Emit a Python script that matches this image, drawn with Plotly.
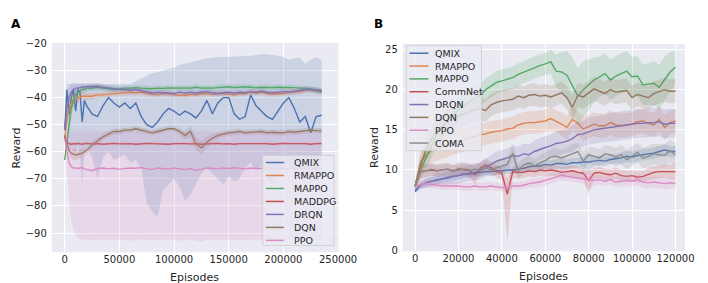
import plotly.graph_objects as go

# ---------------- Panel A data ----------------
xa = [0, 2000, 4000, 6000, 8000, 10000, 12000, 14000, 16000, 18000, 20000,
      25000, 30000, 35000, 40000, 45000, 50000, 55000, 60000, 65000, 70000,
      75000, 80000, 85000, 90000, 95000, 100000, 105000, 110000, 115000, 120000,
      125000, 130000, 135000, 140000, 145000, 150000, 155000, 160000, 165000, 170000,
      175000, 180000, 185000, 190000, 195000, 200000, 205000, 210000, 215000, 220000,
      225000, 230000, 235000]

qmix_a = [-52, -37, -46, -40, -37, -45, -37, -38, -49, -41, -43,
          -46, -47, -43, -40, -42, -43.5, -42, -44, -42, -47,
          -50, -51, -49, -46, -44, -45, -46.5, -45, -46, -47.5,
          -45, -41, -46, -42, -40, -40, -46, -48, -47, -39,
          -43, -45, -47, -48, -45, -42, -40, -44, -49, -47,
          -53, -47, -46.5]
qmix_a_hi = [-50, -35, -35, -35, -35, -35, -35, -35, -35, -35, -35,
             -35, -35, -35, -35, -35, -35, -35, -35, -34, -33,
             -32, -31, -30.5, -30, -29.5, -29, -28, -27.5, -27, -26.5,
             -26, -25.5, -25.3, -25, -25, -25, -24.8, -24.7, -24.7, -24.5,
             -24.3, -24, -24, -24.2, -24.5, -25, -26, -25.5, -25.3, -27.5,
             -26, -25, -26]
qmix_a_lo = [-54, -58, -60, -58, -60, -60, -58, -62, -72, -60, -58,
             -62, -70, -62, -60, -63, -62, -61, -64, -63, -66,
             -79, -82, -84, -74, -72, -70, -73, -78, -76, -72,
             -68, -66, -68, -70, -72, -69, -71, -70, -66, -64,
             -67, -65, -70, -72, -68, -66, -64, -68, -70, -67,
             -72, -68, -66]
rmappo_a = [-55, -48, -44, -42, -41, -40.5, -40, -40, -39.5, -39.5, -39.5,
            -39.5, -39, -39, -38.7, -38.5, -38.5, -38.3, -38, -38.2, -38,
            -38.5, -38.8, -39, -38.5, -38.5, -39, -39, -39.2, -38.8, -39,
            -38.6, -38.5, -38.8, -38.5, -38.5, -38.8, -39, -38.5, -38.5, -38,
            -38.3, -38, -38.5, -38.7, -38.5, -38.5, -38, -38, -37.8, -37.3,
            -37, -37.5, -38]
mappo_a = [-63, -56, -50, -44, -41, -39, -38, -37.5, -37, -37, -36.5,
           -36.5, -36.2, -36.5, -36.8, -37, -36.8, -36.5, -36.5, -36.3, -36.5,
           -36.6, -36.7, -36.5, -36.6, -36.4, -36.5, -36.5, -36.4, -36.5, -36.2,
           -36.5, -36.4, -36.5, -36.3, -36.2, -36, -36.3, -36.2, -36, -36.2,
           -36.4, -36.2, -36.3, -36.3, -36.2, -36.2, -36.4, -36.3, -36.5, -36.5,
           -36.8, -37.3, -37.8]
maddpg_a = [-54, -56.5, -57, -57.2, -57, -57.1, -56.9, -57, -57.2, -57,
            -56.9, -57.1, -57, -57.2, -57, -56.9, -57.1, -57, -57, -57.2,
            -57, -56.9, -57, -57.1, -57, -57.2, -57, -56.9, -57, -57.1,
            -57, -57.2, -57, -57, -56.9, -57.1, -57, -57.2, -57, -57,
            -56.9, -57.1, -57, -57, -57.2, -57, -56.9, -57, -57.1, -57,
            -57, -57.2, -57, -57]
drqn_a = [-52, -44, -40, -38, -37, -36.5, -36.5, -36.3, -36, -36, -36,
          -35.8, -35.8, -36.2, -36.5, -36.8, -37, -37, -37.3, -37, -37.5,
          -38, -38.3, -38, -38.2, -38.5, -38.5, -38, -38.3, -38, -38.3,
          -38, -37.8, -38.2, -38.5, -38.2, -38, -38.3, -38, -38.2, -37.8,
          -38, -37.6, -38, -38.2, -38, -37.8, -38, -37.6, -37.3, -37,
          -37, -37.2, -37.3]
dqn_a = [-55, -57.5, -59.5, -60.5, -61, -61.2, -61, -60.8, -60.5, -60, -59.5,
         -57.5, -56, -54.5, -53.5, -52.5, -52.5, -52, -52, -51.5, -52,
         -52.5, -53, -52.5, -52, -51.5, -51.5, -52.5, -54, -52.5, -57,
         -58.5, -56.5, -55, -54, -53.5, -53, -52.8, -52.5, -53, -52.8,
         -52.5, -52.5, -53, -52.8, -53, -53, -52.5, -52.8, -52.5, -52.3,
         -52, -52.2, -52.3]
ppo_a = [-55, -60, -64, -65.5, -66, -66, -66.2, -66, -65.8, -66.3, -66.5,
         -67, -66.2, -66, -66.3, -66.1, -66.4, -66.2, -66, -66.1, -65.8,
         -66.3, -66.5, -66, -66.2, -66.4, -66, -66.3, -66.6, -66.2, -66.8,
         -66.4, -66, -66.1, -66.3, -66, -66.2, -65.9, -66.1, -66.3, -66,
         -66.2, -66.1, -65.9, -66, -66.2, -66.1, -66.3, -66, -66.2, -66.1,
         -66, -66.2, -66.1]
ppo_a_hi = [-54, -53, -52.5, -52.5, -52.5, -52.5, -52.5, -52.5, -52.5, -52.5, -52.5,
            -52.4, -52.6, -52.5, -52.3, -52.5, -52.6, -52.4, -52.5, -52.5, -52.3,
            -52.5, -52.6, -52.4, -52.5, -52.5, -52.3, -52.5, -52.6, -52.4, -52.5,
            -52.5, -52.3, -52.5, -52.6, -52.4, -52.5, -52.5, -52.3, -52.5, -52.6,
            -52.4, -52.5, -52.5, -52.3, -52.5, -52.6, -52.4, -52.5, -52.5, -52.3,
            -52.5, -52.6, -52.4]
ppo_a_lo = [-56, -68, -78, -85, -89, -91, -92, -92.3, -92.5, -92.5, -92.6,
            -92.8, -92.5, -92.7, -92.4, -92.8, -92.6, -92.5, -92.9, -92.6, -92.4,
            -92.7, -92.5, -92.8, -92.6, -92.4, -92.7, -92.9, -92.5, -92.6, -92.8,
            -93.2, -92.6, -92.5, -92.7, -92.4, -92.6, -92.8, -92.5, -92.7, -92.6,
            -92.4, -92.6, -92.8, -92.5, -92.6, -92.7, -92.5, -92.4, -92.6, -92.8,
            -92.5, -92.6, -92.7]
hw_a_std = [0.5, 3, 3.5, 3, 2.5, 2, 1.8, 1.5, 1.5, 1.3, 1.3,
            1.2, 1.2, 1.1, 1.1, 1.1, 1.0, 1.0, 1.0, 1.0, 1.0,
            1.0, 1.0, 1.0, 1.0, 1.0, 1.0, 1.0, 1.0, 1.0, 1.0,
            1.0, 1.0, 1.0, 1.0, 1.0, 1.0, 1.0, 1.0, 1.0, 1.0,
            1.0, 1.0, 1.0, 1.0, 1.0, 1.0, 1.0, 1.0, 1.0, 1.0,
            1.0, 1.0, 1.0]
hw_a_dqn = [0.5, 1.5, 2, 2, 2, 2, 1.8, 1.5, 1.5, 1.3, 1.3,
            1.2, 1.2, 1.1, 1.1, 1.1, 1.0, 1.0, 1.0, 1.0, 1.0,
            1.0, 1.0, 1.0, 1.0, 1.0, 1.0, 1.2, 1.5, 2.0, 2.5,
            2.5, 2.0, 1.5, 1.2, 1.0, 1.0, 1.0, 1.0, 1.0, 1.0,
            1.0, 1.0, 1.0, 1.0, 1.0, 1.0, 1.0, 1.0, 1.0, 1.0,
            1.0, 1.0, 1.0]
hw_a_thin = [0.3, 0.4, 0.4, 0.4, 0.4, 0.4, 0.4, 0.4, 0.4, 0.4, 0.4,
             0.4, 0.4, 0.4, 0.4, 0.4, 0.4, 0.4, 0.4, 0.4, 0.4,
             0.4, 0.4, 0.4, 0.4, 0.4, 0.4, 0.4, 0.4, 0.4, 0.4,
             0.4, 0.4, 0.4, 0.4, 0.4, 0.4, 0.4, 0.4, 0.4, 0.4,
             0.4, 0.4, 0.4, 0.4, 0.4, 0.4, 0.4, 0.4, 0.4, 0.4,
             0.4, 0.4, 0.4]

names_a = ["QMIX", "RMAPPO", "MAPPO", "MADDPG", "DRQN", "DQN", "PPO"]
xtick_a = [0, 50000, 100000, 150000, 200000, 250000]
xtick_a_text = ["0", "50000", "100000", "150000", "200000", "250000"]
ytick_a = [-90, -80, -70, -60, -50, -40, -30, -20]
ytick_a_text = ["\u221290", "\u221280", "\u221270", "\u221260", "\u221250", "\u221240", "\u221230", "\u221220"]

# ---------------- Panel B data ----------------
xb = [0, 2500, 5000, 7500, 10000, 12500, 15000, 17500, 20000, 22500,
      25000, 27500, 30000, 32500, 35000, 37500, 40000, 42500, 45000, 47500,
      50000, 52500, 55000, 57500, 60000, 62500, 65000, 67500, 70000, 72500,
      75000, 77500, 80000, 82500, 85000, 87500, 90000, 92500, 95000, 97500,
      100000, 102500, 105000, 107500, 110000, 112500, 115000, 117500, 120000]

qmix_b = [7.3, 8.1, 8.4, 8.6, 8.7, 8.9, 9.0, 9.2, 9.3, 9.5,
          9.5, 9.6, 9.7, 9.8, 9.8, 9.9, 9.9, 10.0, 10.0, 10.1,
          10.2, 10.4, 10.5, 10.5, 10.7, 10.6, 10.8, 10.8, 10.7, 10.9,
          10.9, 11.0, 11.0, 11.1, 11.2, 11.1, 11.3, 11.4, 11.5, 11.7,
          11.6, 11.8, 11.9, 12.0, 12.1, 12.3, 12.5, 12.3, 12.3]
rmappo_b = [8.0, 11.0, 11.8, 12.4, 12.6, 12.9, 13.1, 13.4, 13.6, 13.8,
            14.0, 14.2, 14.4, 14.5, 14.7, 14.8, 14.9, 15.1, 15.2, 15.6,
            15.8, 15.9, 15.9, 16.0, 16.1, 16.4, 16.1, 15.7, 15.3, 16.3,
            15.8, 15.1, 15.4, 15.7, 15.5, 15.5, 15.9, 15.6, 15.5, 15.6,
            15.7, 16.0, 16.1, 15.8, 15.6, 16.3, 15.3, 15.9, 16.1]
mappo_b = [8.0, 10.0, 11.5, 13.0, 14.5, 15.3, 16.3, 16.8, 17.5, 17.9,
           18.5, 18.9, 19.3, 20.0, 20.4, 20.9, 21.1, 21.3, 21.5, 21.9,
           22.2, 22.4, 22.8, 23.0, 23.2, 23.5, 22.3, 22.2, 21.8, 20.5,
           19.2, 20.0, 20.6, 21.2, 21.6, 22.0, 21.2, 21.7, 22.0, 22.3,
           21.6, 21.7, 20.6, 20.7, 20.8, 20.3, 21.3, 22.2, 22.8]
commnet_b = [7.9, 9.8, 9.9, 10.0, 9.9, 10.0, 10.1, 9.9, 10.0, 10.1,
             10.0, 9.4, 10.2, 10.6, 10.3, 9.8, 9.6, 7.0, 9.8, 9.7,
             9.7, 9.9, 9.8, 10.0, 9.9, 10.0, 9.9, 9.7, 9.8, 9.9,
             9.7, 9.6, 8.7, 9.6, 9.7, 9.5, 9.4, 9.6, 9.3, 9.2,
             9.3, 9.1, 9.2, 9.5, 9.7, 9.8, 9.8, 9.8, 9.8]
commnet_b_hi = [8.2, 10.8, 10.7, 10.7, 10.6, 10.7, 10.8, 10.6, 10.7, 10.9,
                10.8, 10.5, 11.0, 11.4, 11.0, 10.6, 10.4, 9.0, 10.6, 10.5,
                10.4, 10.6, 10.5, 10.7, 10.6, 10.7, 10.6, 10.4, 10.5, 10.6,
                10.4, 10.3, 9.8, 10.3, 10.4, 10.2, 10.1, 10.3, 10.0, 9.9,
                10.0, 9.8, 9.9, 10.3, 10.5, 10.6, 10.6, 10.7, 10.8]
commnet_b_lo = [7.6, 8.8, 9.1, 9.3, 9.2, 9.3, 9.4, 9.2, 9.3, 9.3,
                9.2, 8.3, 9.4, 9.8, 9.6, 9.0, 8.8, 1.0, 9.0, 8.9,
                9.0, 9.2, 9.1, 9.3, 9.2, 9.3, 9.2, 9.0, 9.1, 9.2,
                9.0, 8.9, 7.0, 8.9, 9.0, 8.8, 8.7, 8.9, 8.6, 8.5,
                8.6, 8.4, 8.5, 8.7, 8.9, 9.0, 9.0, 8.9, 8.8]
drqn_b = [7.5, 8.1, 8.4, 8.6, 8.8, 8.9, 9.1, 9.2, 9.3, 9.5,
          9.6, 9.7, 9.9, 10.3, 10.8, 11.1, 11.3, 11.5, 11.8, 11.7,
          12.0, 11.9, 12.3, 12.6, 12.8, 13.0, 13.3, 13.4, 13.6, 13.9,
          14.4, 14.5, 14.8, 15.0, 15.1, 15.2, 15.3, 15.4, 15.5, 15.6,
          15.7, 15.8, 15.8, 15.9, 15.9, 16.0, 15.7, 15.8, 15.8]
dqn_b = [8.0, 10.5, 12.5, 13.8, 14.8, 15.5, 16.0, 16.4, 16.7, 17.0,
         17.2, 17.5, 17.6, 17.4, 18.1, 18.4, 18.6, 18.7, 18.8, 19.2,
         19.0, 19.3, 19.4, 19.2, 19.3, 19.1, 19.4, 19.6, 19.0, 17.8,
         19.3, 19.1, 19.6, 20.1, 19.8, 19.5, 20.0, 19.7, 19.8, 19.9,
         19.0, 19.4, 19.2, 19.0, 19.5, 19.8, 20.0, 19.8, 19.8]
ppo_b = [7.9, 8.2, 8.3, 8.2, 8.1, 8.0, 8.0, 8.0, 8.0, 7.9,
         7.9, 8.0, 7.9, 7.9, 8.0, 7.9, 7.8, 7.9, 8.0, 8.0,
         8.1, 8.3, 8.4, 8.5, 8.7, 8.9, 9.1, 9.4, 9.2, 9.1,
         9.0, 8.9, 8.8, 8.7, 8.8, 8.6, 8.8, 8.5, 8.6, 8.7,
         8.6, 8.8, 8.5, 8.4, 8.5, 8.4, 8.3, 8.4, 8.3]
coma_b = [8.1, 9.7, 9.9, 10.1, 9.9, 10.0, 10.1, 9.8, 10.2, 10.0,
          9.9, 10.1, 10.0, 10.3, 10.0, 10.3, 10.5, 10.7, 12.1, 9.9,
          10.6, 10.9, 10.5, 10.8, 11.2, 11.6, 11.7, 11.5, 11.8, 12.1,
          12.3, 11.1, 11.9, 11.7, 11.5, 12.0, 11.9, 11.6, 11.9, 11.3,
          11.8, 12.2, 11.5, 11.7, 12.0, 11.9, 11.8, 12.4, 11.9]

hw_b_small = [0.2, 0.4, 0.5, 0.5, 0.5, 0.5, 0.5, 0.5, 0.5, 0.5,
              0.5, 0.5, 0.5, 0.5, 0.5, 0.5, 0.5, 0.5, 0.5, 0.5,
              0.5, 0.5, 0.6, 0.6, 0.6, 0.6, 0.6, 0.7, 0.6, 0.6,
              0.6, 0.6, 1.2, 0.6, 0.6, 0.6, 0.6, 0.6, 0.7, 0.7,
              0.7, 0.7, 0.7, 0.7, 0.7, 0.7, 0.7, 0.7, 0.7]
hw_b_mid = [0.3, 1.2, 1.4, 1.5, 1.5, 1.5, 1.5, 1.5, 1.5, 1.5,
            1.4, 1.4, 1.4, 1.4, 1.4, 1.4, 1.4, 1.4, 1.4, 1.4,
            1.4, 1.4, 1.4, 1.4, 1.4, 1.4, 1.4, 1.4, 1.5, 1.5,
            1.5, 1.5, 1.5, 1.5, 1.5, 1.5, 1.5, 1.5, 1.5, 1.5,
            1.5, 1.5, 1.5, 1.5, 1.5, 1.5, 1.5, 1.5, 1.5]
hw_b_coma = [0.3, 0.7, 0.8, 0.8, 0.8, 0.8, 0.8, 0.8, 0.8, 0.8,
             0.8, 0.8, 0.8, 0.8, 0.8, 0.9, 0.9, 1.0, 1.2, 1.0,
             0.9, 0.9, 0.9, 1.0, 1.0, 1.0, 1.0, 1.0, 1.0, 1.1,
             1.1, 1.2, 1.1, 1.1, 1.1, 1.1, 1.1, 1.1, 1.2, 1.2,
             1.2, 1.2, 1.3, 1.3, 1.3, 1.3, 1.4, 1.4, 1.4]
hw_b_drqn = [0.3, 0.5, 0.6, 0.7, 0.8, 0.8, 0.9, 0.9, 1.0, 1.0,
             1.0, 1.0, 1.1, 1.1, 1.1, 1.2, 1.2, 1.2, 1.2, 1.2,
             1.3, 1.3, 1.3, 1.4, 1.4, 1.4, 1.5, 1.5, 1.5, 1.6,
             1.6, 1.6, 1.7, 1.7, 1.7, 1.7, 1.8, 1.8, 1.8, 1.8,
             1.8, 1.8, 1.8, 1.8, 1.8, 1.8, 1.8, 1.8, 1.8]
hw_b_mappo = [0.5, 1.0, 1.3, 1.5, 1.5, 1.5, 1.5, 1.5, 1.5, 1.5,
              1.5, 1.5, 1.4, 1.4, 1.4, 1.4, 1.4, 1.4, 1.4, 1.4,
              1.4, 1.4, 1.4, 1.4, 1.4, 1.5, 2.0, 2.5, 3.0, 3.5,
              3.5, 3.5, 3.2, 2.8, 2.5, 2.5, 2.5, 2.5, 2.5, 2.5,
              2.5, 2.5, 2.5, 2.6, 2.7, 2.8, 2.8, 2.5, 2.0]

names_b = ["QMIX", "RMAPPO", "MAPPO", "CommNet", "DRQN", "DQN", "PPO", "COMA"]
xtick_b = [0, 20000, 40000, 60000, 80000, 100000, 120000]
xtick_b_text = ["0", "20000", "40000", "60000", "80000", "100000", "120000"]
ytick_b = [0, 5, 10, 15, 20, 25]
ytick_b_text = ["0", "5", "10", "15", "20", "25"]

# ---------------- styling ----------------
C = {"blue": "#4C72B0", "orange": "#DD8452", "green": "#55A868", "red": "#C44E52",
     "purple": "#8172B3", "brown": "#937860", "pink": "#DA8BC3", "gray": "#8C8C8C"}
W, H = 708, 283
FONT = "DejaVu Sans"
TXT = "#262626"


def rgba(hexc, a):
    h = hexc.lstrip("#")
    return "rgba(%d,%d,%d,%s)" % (int(h[0:2], 16), int(h[2:4], 16), int(h[4:6], 16), a)


fig = go.Figure()


def add_series(x, y, lo, hi, color, xr, yr):
    n = min(len(x), len(y), len(lo), len(hi))
    xs = list(x[:n])
    fig.add_trace(go.Scatter(x=xs + xs[::-1], y=list(hi[:n]) + list(lo[:n])[::-1],
                             fill="toself", fillcolor=rgba(color, 0.2), mode="lines",
                             line=dict(width=0, color=rgba(color, 0)), hoverinfo="skip",
                             showlegend=False, xaxis=xr, yaxis=yr))
    fig.add_trace(go.Scatter(x=xs, y=list(y[:n]), mode="lines",
                             line=dict(color=color, width=1.4), showlegend=False,
                             xaxis=xr, yaxis=yr))


def sym(y, hw):
    n = min(len(y), len(hw))
    return [y[i] - hw[i] for i in range(n)], [y[i] + hw[i] for i in range(n)]


# Panel A
series_a = [
    (qmix_a, qmix_a_lo, qmix_a_hi, C["blue"]),
    (rmappo_a,) + sym(rmappo_a, hw_a_std) + (C["orange"],),
    (mappo_a,) + sym(mappo_a, hw_a_std) + (C["green"],),
    (maddpg_a,) + sym(maddpg_a, hw_a_thin) + (C["red"],),
    (drqn_a,) + sym(drqn_a, hw_a_std) + (C["purple"],),
    (dqn_a,) + sym(dqn_a, hw_a_dqn) + (C["brown"],),
    (ppo_a, ppo_a_lo, ppo_a_hi, C["pink"]),
]
for y, lo, hi, col in series_a:
    add_series(xa, y, lo, hi, col, "x", "y")

# Panel B
series_b = [
    (qmix_b,) + sym(qmix_b, hw_b_small) + (C["blue"],),
    (rmappo_b,) + sym(rmappo_b, hw_b_mid) + (C["orange"],),
    (mappo_b,) + sym(mappo_b, hw_b_mappo) + (C["green"],),
    (commnet_b, commnet_b_lo, commnet_b_hi, C["red"]),
    (drqn_b,) + sym(drqn_b, hw_b_drqn) + (C["purple"],),
    (dqn_b,) + sym(dqn_b, hw_b_mid) + (C["brown"],),
    (ppo_b,) + sym(ppo_b, hw_b_small) + (C["pink"],),
    (coma_b,) + sym(coma_b, hw_b_coma) + (C["gray"],),
]
for y, lo, hi, col in series_b:
    add_series(xb, y, lo, hi, col, "x2", "y2")


def px_x(p):
    return p / W


def px_y(p):
    return 1 - p / H


base = dict(showgrid=True, gridcolor="white", gridwidth=1, zeroline=False,
            showline=False, ticks="", tickfont=dict(family=FONT, size=10, color=TXT))
xcommon = dict(base, ticklabelstandoff=0)
ycommon = dict(base, ticklabelstandoff=4)

fig.update_layout(
    width=W, height=H, margin=dict(l=0, r=0, t=0, b=0),
    paper_bgcolor="white", plot_bgcolor="#EAEAF2", showlegend=False,
    xaxis=dict(domain=[px_x(45), px_x(339.5)], range=[-11800, 250300], anchor="y",
               tickvals=xtick_a, ticktext=xtick_a_text, **xcommon),
    yaxis=dict(domain=[px_y(248), px_y(31)], range=[-97.1, -19.8], anchor="x",
               tickvals=ytick_a, ticktext=ytick_a_text, **ycommon),
    xaxis2=dict(domain=[px_x(405.7), px_x(695.7)], range=[-5650, 124400], anchor="y2",
                tickvals=xtick_b, ticktext=xtick_b_text, **xcommon),
    yaxis2=dict(domain=[px_y(247), px_y(32)], range=[-0.12, 25.7], anchor="x2",
                tickvals=ytick_b, ticktext=ytick_b_text, **ycommon),
)

ann = []
shapes = []


def label(text, x, y, size, color=TXT, angle=0, xanchor="center", yanchor="middle"):
    ann.append(dict(text=text, x=px_x(x), y=px_y(y), xref="paper", yref="paper",
                    xanchor=xanchor, yanchor=yanchor, showarrow=False, textangle=angle,
                    borderpad=0, font=dict(family=FONT, size=size, color=color)))


label("<b>A</b>", 2.5, 3, 12, "black", xanchor="left", yanchor="top")
label("<b>B</b>", 375.5, 3, 12, "black", xanchor="left", yanchor="top")
label("Episodes", 192, 274, 11)
label("Episodes", 550.7, 273.5, 11)
label("Reward", 1.5, 139.5, 11, angle=-90, xanchor="left")
label("Reward", 376.5, 139.5, 11, angle=-90)


def legend(names, colors, box, y0, step, lx0, lx1, tx):
    x0, y0b, x1, y1b = box
    shapes.append(dict(type="rect", xref="paper", yref="paper",
                       x0=px_x(x0), x1=px_x(x1), y0=px_y(y1b), y1=px_y(y0b),
                       fillcolor="rgba(234,234,242,0.8)", line=dict(color="rgba(204,204,204,0.8)", width=1),
                       layer="above"))
    for i, (nm, col) in enumerate(zip(names, colors)):
        yy = y0 + step * i
        shapes.append(dict(type="line", xref="paper", yref="paper",
                           x0=px_x(lx0), x1=px_x(lx1), y0=px_y(yy), y1=px_y(yy),
                           line=dict(color=col, width=1.5), layer="above"))
        ann.append(dict(text=nm, x=px_x(tx), y=px_y(yy), xref="paper", yref="paper",
                        xanchor="left", yanchor="middle", showarrow=False,
                        font=dict(family=FONT, size=9.5, color=TXT)))


legend(names_a, [C["blue"], C["orange"], C["green"], C["red"], C["purple"], C["brown"], C["pink"]],
       (261.7, 147.5, 335, 241), 155, 13.45, 265, 283.5, 291.5)
legend(names_b, [C["blue"], C["orange"], C["green"], C["red"], C["purple"], C["brown"], C["pink"], C["gray"]],
       (409.3, 33.5, 486.5, 142.7), 41.7, 13.3, 412.5, 432, 437)

fig.update_layout(annotations=ann, shapes=shapes)
fig.write_html("out.html")
